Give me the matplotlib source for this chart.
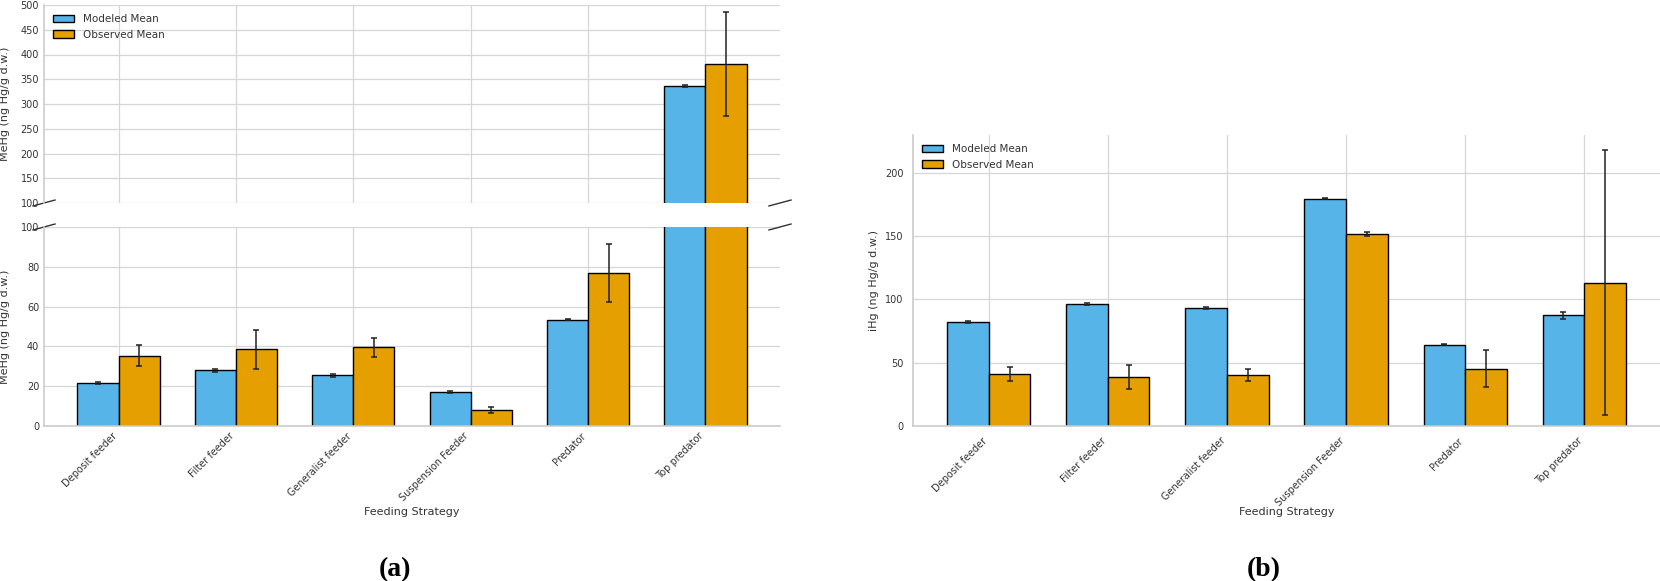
import numpy as np
import matplotlib
matplotlib.use("Agg")
import matplotlib.pyplot as plt

# Feeding strategies (x categories)
CATEGORIES = ["Deposit feeder", "Filter feeder", "Generalist feeder",
              "Suspension Feeder", "Predator", "Top predator"]

# Panel (a): MeHg (ng Hg/g d.w.)
mehg_modeled = [21.6, 27.9, 25.4, 16.9, 53.5, 336.0]
mehg_modeled_err = [0.7, 0.8, 0.8, 0.5, 0.3, 2.0]
mehg_observed = [35.3, 38.5, 39.6, 7.9, 77.1, 381.0]
mehg_observed_err = [5.4, 9.8, 4.8, 1.5, 14.6, 105.5]

# Panel (b): iHg (ng Hg/g d.w.)
ihg_modeled = [82.4, 96.6, 93.2, 179.5, 64.2, 87.4]
ihg_modeled_err = [0.8, 0.8, 0.8, 0.4, 0.3, 2.6]
ihg_observed = [41.3, 38.7, 40.3, 151.6, 45.3, 113.2]
ihg_observed_err = [5.5, 9.7, 4.9, 1.6, 14.7, 104.9]

BLUE = "#56B4E9"
ORANGE = "#E69F00"
GRID = "#d6d6d6"
TEXT = "#333333"

plt.rcParams.update({
    "font.family": "DejaVu Sans",
    "font.size": 7,
    "text.color": TEXT,
    "axes.labelcolor": TEXT,
    "xtick.color": TEXT,
    "ytick.color": TEXT,
})

W, H = 1660, 581
fig = plt.figure(figsize=(W / 100, H / 100), dpi=100)


def px_axes(left, top, right, bottom):
    return fig.add_axes([left / W, 1 - bottom / H, (right - left) / W, (bottom - top) / H])


def style(ax, pad):
    ax.set_facecolor("white")
    ax.grid(True, color=GRID, linewidth=0.9)
    ax.set_axisbelow(True)
    ax.tick_params(length=0, pad=pad, labelsize=7)
    for side in ["top", "right"]:
        ax.spines[side].set_visible(False)
    for side in ["left", "bottom"]:
        ax.spines[side].set_color("#cccccc")
        ax.spines[side].set_linewidth(1.2)


def draw_bars(ax, modeled, modeled_err, observed, observed_err):
    x = np.arange(len(CATEGORIES))
    w = 0.35
    ekw = dict(ecolor="#222222", elinewidth=1.1, capthick=1.1)
    b1 = ax.bar(x - w / 2, modeled, w, yerr=modeled_err, color=BLUE,
                edgecolor="black", linewidth=1, capsize=2.5, error_kw=ekw,
                label="Modeled Mean")
    b2 = ax.bar(x + w / 2, observed, w, yerr=observed_err, color=ORANGE,
                edgecolor="black", linewidth=1, capsize=2.5, error_kw=ekw,
                label="Observed Mean")
    ax.set_xticks(x)
    return b1, b2


# ---- Panel (a): broken axis ----
ax_top = px_axes(44, 5, 780, 203)
ax_bot = px_axes(44, 227, 780, 426)
for ax in (ax_top, ax_bot):
    style(ax, pad=3.5)
    draw_bars(ax, mehg_modeled, mehg_modeled_err, mehg_observed, mehg_observed_err)
    ax.set_ylabel("MeHg (ng Hg/g d.w.)", fontsize=8)
    ax.yaxis.set_label_coords(-0.046, 0.5)

ax_top.set_ylim(100, 500)
ax_top.set_yticks(np.arange(100, 501, 50))
ax_top.spines["bottom"].set_visible(False)
ax_top.tick_params(labelbottom=False)
ax_top.legend(loc="upper left", frameon=False, fontsize=7.5)

ax_bot.set_ylim(0, 100)
ax_bot.set_yticks(np.arange(0, 101, 20))
ax_bot.set_xticklabels(CATEGORIES, rotation=45, ha="right", fontsize=7)
ax_bot.set_xlabel("Feeding Strategy", fontsize=8)
ax_bot.xaxis.set_label_coords(0.5, -0.405)

d = 0.015
kw = dict(color="#333333", clip_on=False, linewidth=1)
ax_top.plot((-d, d), (-d, d), transform=ax_top.transAxes, **kw)
ax_top.plot((1 - d, 1 + d), (-d, d), transform=ax_top.transAxes, **kw)
ax_bot.plot((-d, d), (1 - d, 1 + d), transform=ax_bot.transAxes, **kw)
ax_bot.plot((1 - d, 1 + d), (1 - d, 1 + d), transform=ax_bot.transAxes, **kw)

# ---- Panel (b) ----
ax_b = px_axes(913, 135, 1660, 426)
style(ax_b, pad=7)
draw_bars(ax_b, ihg_modeled, ihg_modeled_err, ihg_observed, ihg_observed_err)
ax_b.set_ylim(0, 230)
ax_b.set_yticks(np.arange(0, 201, 50))
ax_b.set_xticklabels(CATEGORIES, rotation=45, ha="right", fontsize=7)
ax_b.set_xlabel("Feeding Strategy", fontsize=8)
ax_b.xaxis.set_label_coords(0.5, -0.277)
ax_b.set_ylabel("iHg (ng Hg/g d.w.)", fontsize=8)
ax_b.yaxis.set_label_coords(-0.046, 0.5)
ax_b.legend(loc="upper left", frameon=False, fontsize=7.5)

# panel letters
fig.text(395 / W, 0.008, "(a)", ha="center", va="baseline",
         family="Liberation Serif", weight="bold", fontsize=20, color="black")
fig.text(1264 / W, 0.008, "(b)", ha="center", va="baseline",
         family="Liberation Serif", weight="bold", fontsize=20, color="black")

fig.savefig("out.png", dpi=100)
